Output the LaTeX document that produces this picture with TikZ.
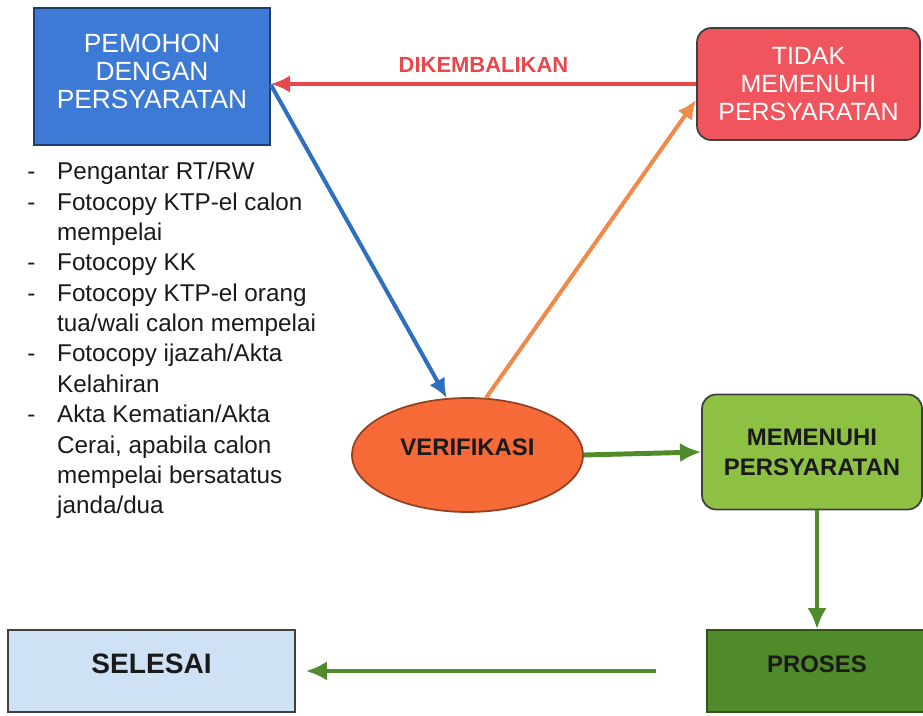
\documentclass[tikz,border=0pt]{standalone}
\usepackage{fontspec}
\setmainfont{Liberation Sans}
\usetikzlibrary{positioning, shapes.geometric, arrows.meta, calc}

\definecolor{pemohonblue}{HTML}{3D7AD6}
\definecolor{tidakred}{HTML}{F0545C}
\definecolor{veriforange}{HTML}{F66A38}
\definecolor{okgreen}{HTML}{8DC043}
\definecolor{prosesgreen}{HTML}{4F8A2B}
\definecolor{selesaiblue}{HTML}{CFE2F5}
\definecolor{arrowred}{HTML}{E8474C}
\definecolor{arrowblue}{HTML}{2F6FBF}
\definecolor{arroworange}{HTML}{F08A4B}
\definecolor{inkdark}{HTML}{1A1A1A}

\begin{document}
\begin{tikzpicture}[
    x=0.02cm, y=-0.02cm, % one unit = one pixel of the sketch
    >=Latex,
    % Styles
    box/.style={ % Flow boxes
        rectangle,
        draw=black!75,
        line width=1pt,
        align=center,
        inner sep=2pt
    },
    whitetext/.style={ % White captions
        font=\fontsize{15}{15.8}\selectfont,
        text=white
    },
    darktext/.style={ % Dark bold captions
        font=\fontsize{13.6}{17}\selectfont\bfseries,
        text=inkdark
    },
    arrow/.style={
        -{Latex[length=11pt, width=10pt]},
        line width=2.3pt
    },
    okarrow/.style={ % Green flow arrows
        arrow,
        -{Latex[length=12pt, width=11pt]},
        line width=2.8pt,
        prosesgreen
    }
]
    \useasboundingbox (0,0) rectangle (923,716);
    \fill[white] (0,0) rectangle (923,716);

    % Flow nodes
    \node[box, whitetext, fill=pemohonblue, draw=pemohonblue!50!black, text depth=6pt,
        minimum width=4.72cm, minimum height=2.74cm] (pemohon) at (152,76.5)
        {PEMOHON\\DENGAN\\PERSYARATAN};
    \node[box, whitetext, fill=tidakred, rounded corners=8pt,
        font=\fontsize{14.2}{15.9}\selectfont,
        minimum width=4.46cm, minimum height=2.24cm] (tidak) at (808.5,84)
        {TIDAK\\MEMENUHI\\PERSYARATAN};
    \node[ellipse, draw=veriforange!60!black, line width=1pt,
        fill=veriforange, darktext, text depth=9pt,
        minimum width=4.62cm, minimum height=2.28cm] (verif) at (467.5,455) {VERIFIKASI};
    \node[box, darktext, fill=okgreen, rounded corners=8pt,
        minimum width=4.4cm, minimum height=2.3cm] (memenuhi) at (812,452)
        {MEMENUHI\\PERSYARATAN};
    \node[box, darktext, fill=selesaiblue, font=\fontsize{16}{18}\selectfont\bfseries,
        text depth=8pt,
        minimum width=5.74cm, minimum height=1.64cm] (selesai) at (151.5,671) {SELESAI};
    \node[box, darktext, fill=prosesgreen, draw=prosesgreen!60!black, text depth=8pt,
        minimum width=4.4cm, minimum height=1.64cm] (proses) at (817,671) {PROSES};

    % Requirement list
    \node[anchor=north west, inner sep=0pt, text=inkdark,
        font=\fontsize{13.8}{17.3}\selectfont] (syarat) at (27,158) {%
        \begin{tabular}{@{}p{17pt}@{}l@{}}
        - & Pengantar RT/RW\\
        - & Fotocopy KTP-el calon\\
          & mempelai\\
        - & Fotocopy KK\\
        - & Fotocopy KTP-el orang\\
          & tua/wali calon mempelai\\
        - & Fotocopy ijazah/Akta\\
          & Kelahiran\\
        - & Akta Kematian/Akta\\
          & Cerai, apabila calon\\
          & mempelai bersatatus\\
          & janda/dua
        \end{tabular}};

    % Flow edges
    \draw[arrow, arrowred] (tidak.west) -- (pemohon.east |- tidak.west)
        node[midway, above=2pt, font=\fontsize{12.5}{14}\selectfont\bfseries] {DIKEMBALIKAN};
    \draw[arrow, arrowblue] (pemohon.-4) -- (verif.110);
    \draw[arrow, arroworange] (verif.72) -- (tidak.188);
    \draw[okarrow] (verif.east) -- (memenuhi.west);
    \draw[okarrow] (proses.north |- memenuhi.south) -- (proses.north);
    \draw[okarrow, shorten <=1.0cm, shorten >=0.2cm] (proses.west) -- (selesai.east);
\end{tikzpicture}
\end{document}
